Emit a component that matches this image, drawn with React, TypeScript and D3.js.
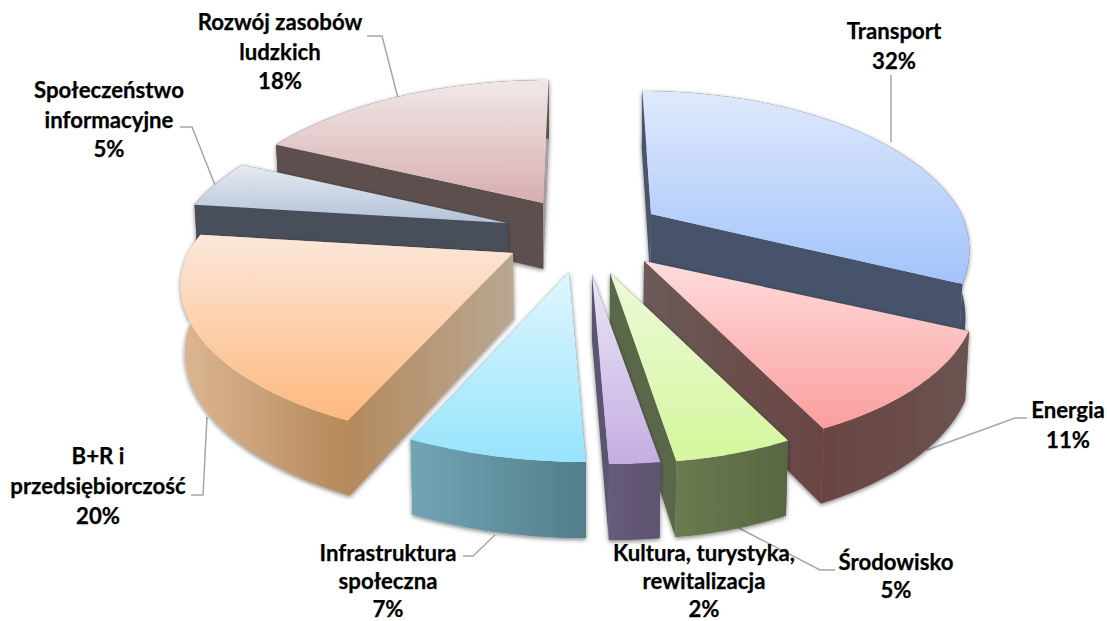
import React from "react";
import * as d3 from "d3";

const W = 1107, H = 621;

const categories = ["Transport", "Energia", "Środowisko", "Kultura, turystyka, rewitalizacja", "Infrastruktura społeczna", "B+R i przedsiębiorczość", "Społeczeństwo informacyjne", "Rozwój zasobów ludzkich"];
const values = [32, 11, 5, 2, 7, 20, 5, 18];
const labelLines = [["Transport"], ["Energia"], ["Środowisko"], ["Kultura, turystyka,", "rewitalizacja"], ["Infrastruktura", "społeczna"], ["B+R i", "przedsiębiorczość"], ["Społeczeństwo", "informacyjne"], ["Rozwój zasobów", "ludzkich"]];

// styling per slice
const topColors = [["#dfe9fb", "#a2c3fb"], ["#fddddc", "#fb9e9d"], ["#edf9da", "#d4f79c"], ["#ece6f6", "#c4ade3"], ["#e0f6fc", "#96e4fc"], ["#fbe7da", "#fdb97d"], ["#e6eaf1", "#b3c1d9"], ["#f1e8e8", "#d7aeaf"]];
const outerWall = [["#47536a", "#445068"], ["#684442", "#6c5451"], ["#6a7b50", "#586643"], ["#675b7b", "#5e5270"], ["#70a5b5", "#547e8b"], ["#dcb693", "#b6895a"], ["#4a4f5a", "#4a4f5a"], ["#5c4f4d", "#5c4f4d"]];
const startWall = [["#4a5468", "#4a5468"], ["#6c5a58", "#684543"], ["#5a6748", "#5a6748"], ["#5d5570", "#5d5570"], ["#547e8b", "#547e8b"], ["#b58a5c", "#b8a792"], ["#4a4f5a", "#4a4f5a"], ["#5c4f4d", "#5c4f4d"]];
const endWall = [["#47536a", "#47536a"], ["#6c5a58", "#684543"], ["#5a6748", "#5a6748"], ["#5b5470", "#5b5470"], ["#70a5b5", "#70a5b5"], ["#dcb693", "#dcb693"], ["#4a4f5a", "#4a4f5a"], ["#a89c9c", "#a89c9c"]];

// layout: pie centre, explosion of each slice, projection constants
const centerX = 580, centerY = 240;
const explodeDx = [71, 64, 30, 12, -11, -67, -73, -37];
const explodeDy = [-26, 21, 33, 34, 32, 13, -17, -37];
const sliceScaleX = [0.955, 1, 0.96, 1, 1, 1, 1, 1];
const frontShift = [17, 10, 17, 17, 17, 8, 17, 17];
const drawOrder = [0, 7, 6, 5, 1, 2, 3, 4];
const radiusX = 325, radiusY = 149.3, persp = 0.214, vanishX = 586, backFactor = 0.75;
const baseDepth = 66;

const leaderPaths = [
  [[891, 75], [891, 142]],
  [[1027, 418], [1015, 418], [927, 450]],
  [[835, 570], [820, 570], [733, 525]],
  [],
  [[463, 556], [473, 556], [495, 535]],
  [[191, 495], [203, 495], [207, 417]],
  [[180, 127], [192, 127], [215, 185]],
  [[367, 36], [382, 36], [398, 98]],
];
const labelX = [894, 1068, 896, 704, 388, 98, 109, 280];
const labelY = [39, 418, 570, 561, 561, 464, 98, 30];
const labelStep = [30, 30, 28, 28, 28, 30, 29.5, 29.5];

const pie = d3.pie<number>().sort(null).value((d) => d);
const arcs = pie(values);
const lineGen = d3.line<[number, number]>();
const toDeg = 180 / Math.PI;

type P = [number, number];
function projector(i: number) {
  const ax = centerX + explodeDx[i];
  const ay = centerY + explodeDy[i];
  const top = (t: number, r = 1): P => {
    const w = 1 + r * persp * Math.cos(t);
    const y = (-r * radiusY * Math.cos(t)) / w;
    const back = w > 1 ? backFactor * (ax - vanishX) * (1 / w - 1) : 0;
    const front = y > 0 ? frontShift[i] * Math.pow(y / 190, 2) : 0;
    const x = (r * radiusX * sliceScaleX[i] * Math.sin(t)) / w + back + front;
    return [ax + x, ay + y];
  };
  const bottom = (t: number, r = 1): P => {
    const [x, y] = top(t, r);
    const w = 1 + r * persp * Math.cos(t);
    return [x - (x - vanishX) * 0.01, y + baseDepth * Math.pow(w, -0.6)];
  };
  return { top, bottom, apex: [ax, ay] as P, apexBottom: bottom(0, 0) };
}

function sweep(a0: number, a1: number) {
  const n = Math.max(2, Math.ceil((a1 - a0) * toDeg));
  return d3.range(n + 1).map((k) => a0 + ((a1 - a0) * k) / n);
}

function Gradient({ id, colors, x1, y1, x2, y2 }: any) {
  return (
    <linearGradient id={id} gradientUnits="userSpaceOnUse" x1={x1} y1={y1} x2={x2} y2={y2}>
      <stop offset="0" stopColor={colors[0]} />
      <stop offset="1" stopColor={colors[1]} />
    </linearGradient>
  );
}

export default function App() {
  const defs: React.ReactNode[] = [];
  const slices = drawOrder.map((i) => {
    const a = arcs[i];
    const p = projector(i);
    const ts = sweep(a.startAngle, a.endAngle);
    const rim = ts.map((t) => p.top(t));
    const rimB = ts.map((t) => p.bottom(t));
    const face = [p.apex, ...rim];
    const ys = face.map((q) => q[1]);
    const sP = rim[0], eP = rim[rim.length - 1];
    const sB = rimB[0], eB = rimB[rimB.length - 1];
    const xs = rim.map((q) => q[0]);
    const xMin = d3.min(xs)!, xMax = d3.max(xs)!;
    defs.push(<Gradient key={`t${i}`} id={`top${i}`} colors={topColors[i]} x1={0} y1={d3.min(ys)} x2={0} y2={d3.max(ys)} />);
    defs.push(<Gradient key={`o${i}`} id={`outer${i}`} colors={outerWall[i]} x1={xMin} y1={0} x2={xMax} y2={0} />);
    const sx = [sP[0], p.apex[0]].sort(d3.ascending);
    const ex = [eP[0], p.apex[0]].sort(d3.ascending);
    defs.push(<Gradient key={`s${i}`} id={`start${i}`} colors={startWall[i]} x1={sx[0]} y1={0} x2={sx[1] + 0.01} y2={0} />);
    defs.push(<Gradient key={`e${i}`} id={`end${i}`} colors={endWall[i]} x1={ex[0]} y1={0} x2={ex[1] + 0.01} y2={0} />);
    const startPath = <path key="s" d={lineGen([p.apex, sP, sB, p.apexBottom])! + "Z"} fill={`url(#start${i})`} />;
    const endPath = <path key="e" d={lineGen([p.apex, eP, eB, p.apexBottom])! + "Z"} fill={`url(#end${i})`} />;
    // the radial wall that reaches further back is painted first
    const radial = sP[1] < eP[1] ? [startPath, endPath] : [endPath, startPath];
    return (
      <g key={i} data-name={categories[i]}>
        <g filter="url(#wallShadow)">
          {radial}
          <path d={lineGen([...rim, ...rimB.slice().reverse()])! + "Z"} fill={`url(#outer${i})`} />
        </g>
        <path d={lineGen(face)! + "Z"} fill={`url(#top${i})`} />
      </g>
    );
  });

  return (
    <svg width={W} height={H} viewBox={`0 0 ${W} ${H}`} style={{ position: "fixed", left: 0, top: 0, display: "block", background: "#fff" }}>
      <defs>
        <filter id="wallShadow" x="-10%" y="-10%" width="120%" height="125%">
          <feDropShadow dx="0" dy="1.5" stdDeviation="2.2" floodColor="#000" floodOpacity="0.5" />
        </filter>
        {defs}
      </defs>
      {leaderPaths.filter((l) => l.length > 0).map((l, k) => (
        <path key={k} d={lineGen(l as P[])!} fill="none" stroke="#a6a6a6" strokeWidth={1.5} />
      ))}
      {slices}
      <g fontFamily="Lato, sans-serif" fontWeight={700} fontSize={22.2} fill="#000" stroke="#000" strokeWidth={0.25} textAnchor="middle">
        {labelLines.map((lines, i) => (
          <text key={i}>
            {[...lines, `${values[i]}%`].map((t, k) => (
              <tspan key={k} x={labelX[i]} y={labelY[i] + k * labelStep[i]}>{t}</tspan>
            ))}
          </text>
        ))}
      </g>
    </svg>
  );
}
